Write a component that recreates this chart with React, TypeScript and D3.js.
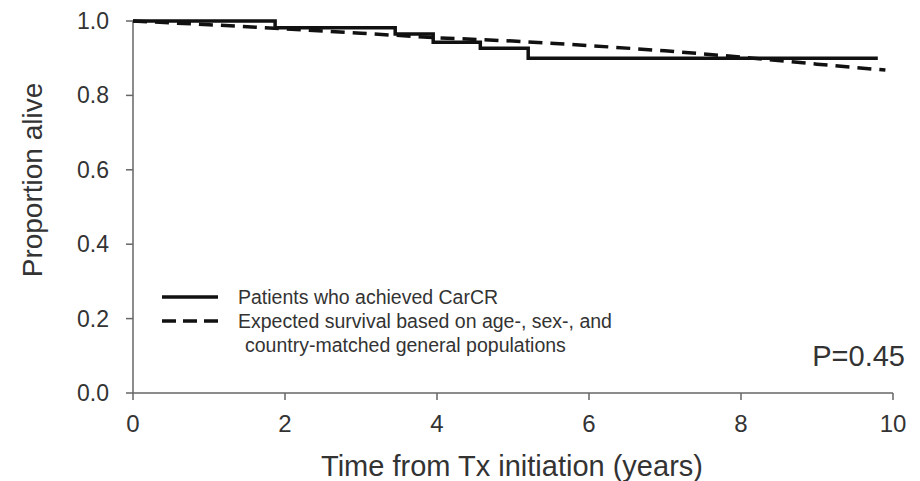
import React from "react";
import * as d3 from "d3";

const W = 920;
const H = 481;

// Kaplan-Meier (patients who achieved CarCR): step times and survival values
const kmTimes = [0, 1.87, 3.45, 3.95, 4.57, 5.2, 9.8];
const kmSurv = [1.0, 0.982, 0.965, 0.943, 0.927, 0.9, 0.9];

// Expected survival (general population)
const expTimes = [0, 1, 2, 3, 4, 5, 6, 7, 8, 9, 9.9];
const expSurv = [1.0, 0.99, 0.979, 0.967, 0.955, 0.946, 0.934, 0.92, 0.903, 0.884, 0.868];

const xTicks = [0, 2, 4, 6, 8, 10];
const yTicks = [0, 0.2, 0.4, 0.6, 0.8, 1.0];

const legendLabels = [
  "Patients who achieved CarCR",
  "Expected survival based on age-, sex-, and",
  "country-matched general populations",
];
const pValueText = "P=0.45";
const xTitle = "Time from Tx initiation (years)";
const yTitle = "Proportion alive";

const FONT = "'Liberation Sans', Arial, sans-serif";

export default function App() {
  const x = d3.scaleLinear().domain([0, 10]).range([133, 893]);
  const y = d3.scaleLinear().domain([0, 1]).range([393, 21]);

  const kmData = kmTimes.map((t, i) => [t, kmSurv[i]] as [number, number]);
  const expData = expTimes.map((t, i) => [t, expSurv[i]] as [number, number]);

  const kmLine = d3
    .line<[number, number]>()
    .x((d) => x(d[0]))
    .y((d) => y(d[1]))
    .curve(d3.curveStepAfter);
  const expLine = d3
    .line<[number, number]>()
    .x((d) => x(d[0]))
    .y((d) => y(d[1]));

  const axisColor = "#666";
  const textColor = "#333";

  return (
    <svg
      width={W}
      height={H}
      style={{ position: "absolute", left: 0, top: 0, background: "#fff" }}
      fontFamily={FONT}
    >
      <rect x={0} y={0} width={W} height={H} fill="#fff" />
      {/* axes */}
      <line x1={x(0)} x2={x(0)} y1={y(0)} y2={y(1)} stroke={axisColor} strokeWidth={1.5} />
      <line x1={x(0)} x2={x(10)} y1={y(0)} y2={y(0)} stroke={axisColor} strokeWidth={1.5} />
      {yTicks.map((t) => (
        <g key={"y" + t}>
          <line x1={x(0) - 7} x2={x(0)} y1={y(t)} y2={y(t)} stroke={axisColor} strokeWidth={1.5} />
          <text
            x={x(0) - 24}
            y={y(t)}
            textAnchor="end"
            dominantBaseline="central"
            fontSize={23}
            fill={textColor}
          >
            {t.toFixed(1)}
          </text>
        </g>
      ))}
      {xTicks.map((t) => (
        <g key={"x" + t}>
          <line x1={x(t)} x2={x(t)} y1={y(0)} y2={y(0) + 7} stroke={axisColor} strokeWidth={1.5} />
          <text
            x={x(t)}
            y={y(0) + 30}
            textAnchor="middle"
            dominantBaseline="central"
            fontSize={24}
            fill={textColor}
          >
            {t}
          </text>
        </g>
      ))}
      <text
        x={512}
        y={466}
        textAnchor="middle"
        dominantBaseline="central"
        fontSize={29}
        fill={textColor}
      >
        {xTitle}
      </text>
      <text
        transform={`translate(32,180) rotate(-90)`}
        textAnchor="middle"
        dominantBaseline="central"
        fontSize={28}
        fill={textColor}
      >
        {yTitle}
      </text>

      {/* curves */}
      <path d={expLine(expData) || ""} fill="none" stroke="#111" strokeWidth={3.5} strokeDasharray="14,8" />
      <path d={kmLine(kmData) || ""} fill="none" stroke="#111" strokeWidth={3.5} />

      {/* legend */}
      <line x1={162} x2={218} y1={297} y2={297} stroke="#111" strokeWidth={3.5} />
      <line x1={162} x2={218} y1={321} y2={321} stroke="#111" strokeWidth={3.5} strokeDasharray="14,7" />
      <text x={238} y={297} dominantBaseline="central" fontSize={19.5} fill={textColor}>
        {legendLabels[0]}
      </text>
      <text x={238} y={321} dominantBaseline="central" fontSize={19.5} fill={textColor}>
        {legendLabels[1]}
      </text>
      <text x={245} y={345} dominantBaseline="central" fontSize={19.5} fill={textColor}>
        {legendLabels[2]}
      </text>

      <text x={905} y={356} textAnchor="end" dominantBaseline="central" fontSize={29} fill={textColor}>
        {pValueText}
      </text>
    </svg>
  );
}
